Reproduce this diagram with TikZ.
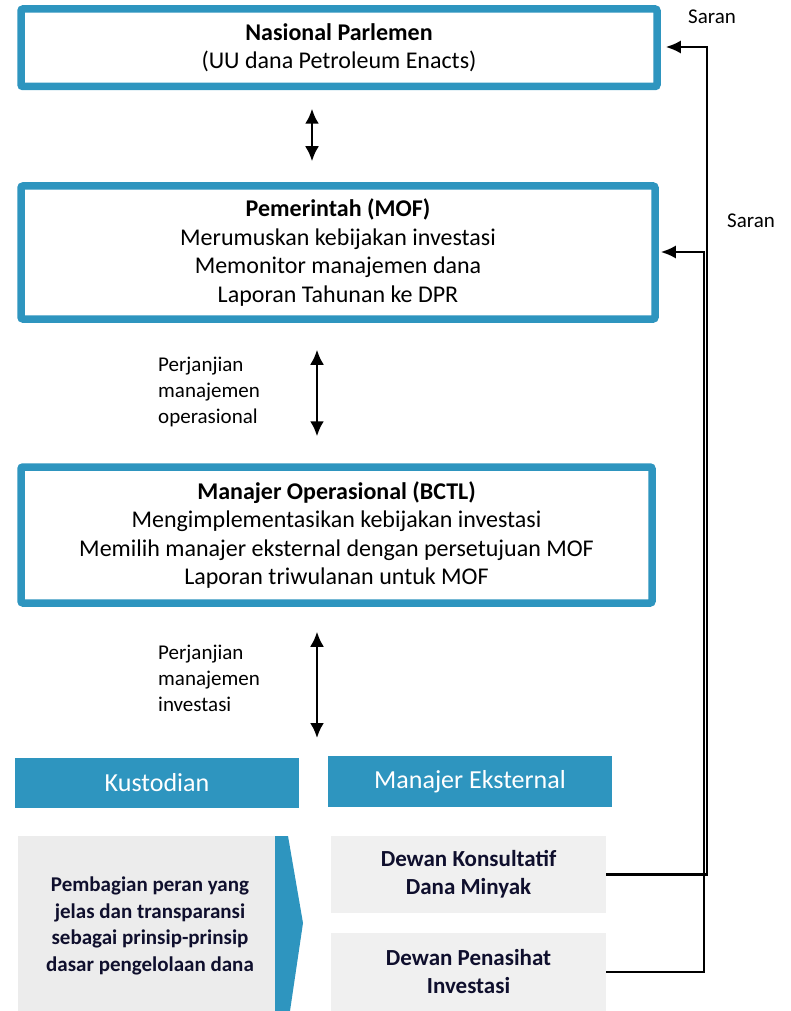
\documentclass[tikz,border=0pt]{standalone}
\usepackage{fontspec}
\setmainfont{Carlito}
\usetikzlibrary{arrows.meta}
\definecolor{tblue}{RGB}{46,149,191}
\definecolor{gleft}{RGB}{236,236,236}
\definecolor{gright}{RGB}{240,240,240}
\definecolor{navy}{RGB}{15,15,45}
\tikzset{
  mainbox/.style={draw=tblue, line width=7.5pt, rounded corners=2pt, fill=white,
    align=center, inner sep=0pt, font=\fontsize{24}{28.5}\selectfont},
  headbox/.style={fill=tblue, text=white, inner sep=0pt, font=\fontsize{26}{30}\selectfont},
  graybox/.style={fill=gright, inner sep=0pt, align=center, text=navy,
    font=\bfseries\fontsize{23}{28}\selectfont},
  lbl/.style={align=left, anchor=west, inner sep=0pt, font=\fontsize{21}{26}\selectfont},
  dbl/.style={{Latex[length=15pt,width=14pt]}-{Latex[length=15pt,width=14pt]}, line width=2.5pt},
  conn/.style={line width=2.2pt, -{Latex[length=15pt,width=13pt]}},
}
\begin{document}
\begin{tikzpicture}[x=1pt,y=-1pt]
\useasboundingbox (0,0) rectangle (790,1011);

\node[mainbox, minimum width=636pt, minimum height=77.5pt] (parl) at (339,47.75)
  {\textbf{Nasional Parlemen}\\(UU dana Petroleum Enacts)};
\node[mainbox, minimum width=634pt, minimum height=133pt] (gov) at (338,252.5)
  {\textbf{Pemerintah (MOF)}\\Merumuskan kebijakan investasi\\Memonitor manajemen dana\\Laporan Tahunan ke DPR};
\node[mainbox, minimum width=631pt, minimum height=136pt] (ops) at (336.5,535)
  {\textbf{Manajer Operasional (BCTL)}\\Mengimplementasikan kebijakan investasi\\Memilih manajer eksternal dengan persetujuan MOF\\Laporan triwulanan untuk MOF};

\node[headbox, minimum width=284pt, minimum height=50pt] (kust) at (157,783) {Kustodian};
\node[headbox, minimum width=284pt, minimum height=51pt] (ext) at (470,781.5) {Manajer Eksternal};

\node[fill=gleft, minimum width=257pt, minimum height=175pt, inner sep=0pt] (left) at (146.5,923.5) {};
\fill[tblue] (275,836) -- (288,836) -- (303,923) -- (290,1011) -- (275,1011) -- cycle;
\node[align=center, text=navy, font=\bfseries\fontsize{21}{26.5}\selectfont] (lefttxt) at (150,926)
  {Pembagian peran yang\\jelas dan transparansi\\sebagai prinsip-prinsip\\dasar pengelolaan dana};

\node[graybox, minimum width=275pt, minimum height=77pt] (konsul) at (468.5,874.5) {Dewan Konsultatif\\Dana Minyak};
\node[graybox, minimum width=275pt, minimum height=78pt] (penas) at (468.5,972) {Dewan Penasihat\\Investasi};

\coordinate (a1) at (312,0);
\coordinate (a2) at (317,0);
\coordinate (a3end) at (317,738);
\draw[dbl, shorten <=18.5pt, shorten >=21pt] (parl.south -| a1) -- (gov.north -| a1);
\draw[dbl, shorten <=27pt, shorten >=27pt] (gov.south -| a2) -- (ops.north -| a2);
\draw[dbl, shorten <=25pt] (ops.south -| a2) -- (a3end);

\node[lbl] (l1) at (158,392) {Perjanjian\\manajemen\\operasional};
\node[lbl] (l2) at (158,678) {Perjanjian\\manajemen\\investasi};

\coordinate (v1) at (707,0);
\coordinate (v2) at (704,0);
\draw[conn] (konsul.east) -- (konsul.east -| v1) -- (v1 |- 0,47) -- ([xshift=5pt]parl.east |- 0,47);
\draw[conn] (penas.east) -- (penas.east -| v2) -- (v2 |- 0,252) -- ([xshift=2pt]gov.east |- 0,252);

\node[font=\fontsize{21}{24}\selectfont, inner sep=0pt] (s1) at (712,17) {Saran};
\node[font=\fontsize{21}{24}\selectfont, inner sep=0pt] (s2) at (751,221) {Saran};
\end{tikzpicture}
\end{document}
